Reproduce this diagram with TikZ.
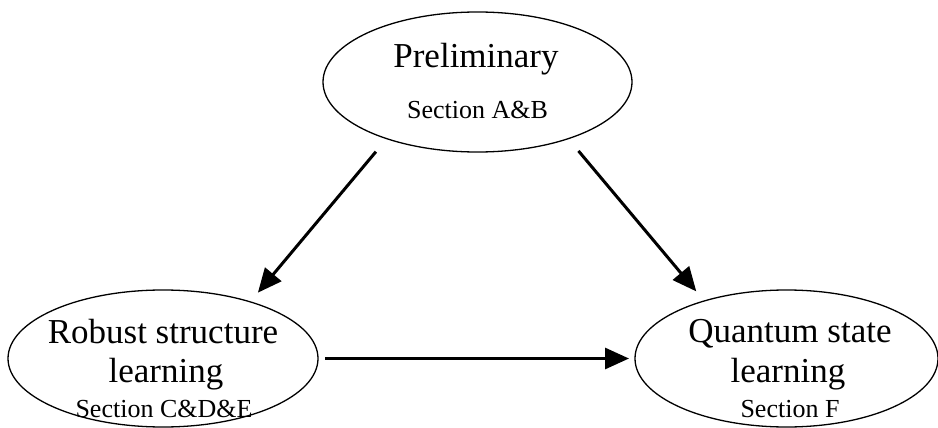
\documentclass[tikz,border=0pt]{standalone}
\usepackage{fontspec}
\setmainfont{Liberation Serif}
\usetikzlibrary{shapes.geometric,arrows.meta}
\begin{document}
\begin{tikzpicture}[x=1pt,y=-1pt,
  oval/.style={draw=black, ellipse, line width=1.3pt, inner sep=0pt, outer sep=0pt},
  big/.style={anchor=base, inner sep=0pt, font=\fontsize{35}{38}\selectfont},
  small/.style={anchor=base, inner sep=0pt, font=\fontsize{26}{28}\selectfont},
  arr/.style={line width=3pt, -{Triangle[length=24pt,width=21pt]}}]
\useasboundingbox (0,0) rectangle (938,428);
\node[oval, minimum width=309pt, minimum height=140pt] (top) at (477.5,82) {};
\node[oval, minimum width=310pt, minimum height=137pt] (left) at (163,358.5) {};
\node[oval, minimum width=303pt, minimum height=137pt] (right) at (786.5,358.5) {};
\node[big] (t1) at (476,67) {Preliminary};
\node[small] (t2) at (477.5,118) {Section A\&B};
\node[big] (l1) at (163,343) {Robust structure};
\node[big] (l2) at (166,382) {learning};
\node[small] (l3) at (164,417) {Section C\&D\&E};
\node[big] (r1) at (790,342) {Quantum state};
\node[big] (r2) at (788,382) {learning};
\node[small] (r3) at (790,417) {Section F};
\draw[arr, shorten <=17pt, shorten >=12pt] (top.212.3) -- (left.33.4);
\draw[arr, shorten <=16pt, shorten >=12.5pt] (top.-32) -- (right.145.3);
\draw[arr, shorten <=7pt, shorten >=6pt] (left.east) -- (right.west);
\end{tikzpicture}
\end{document}
